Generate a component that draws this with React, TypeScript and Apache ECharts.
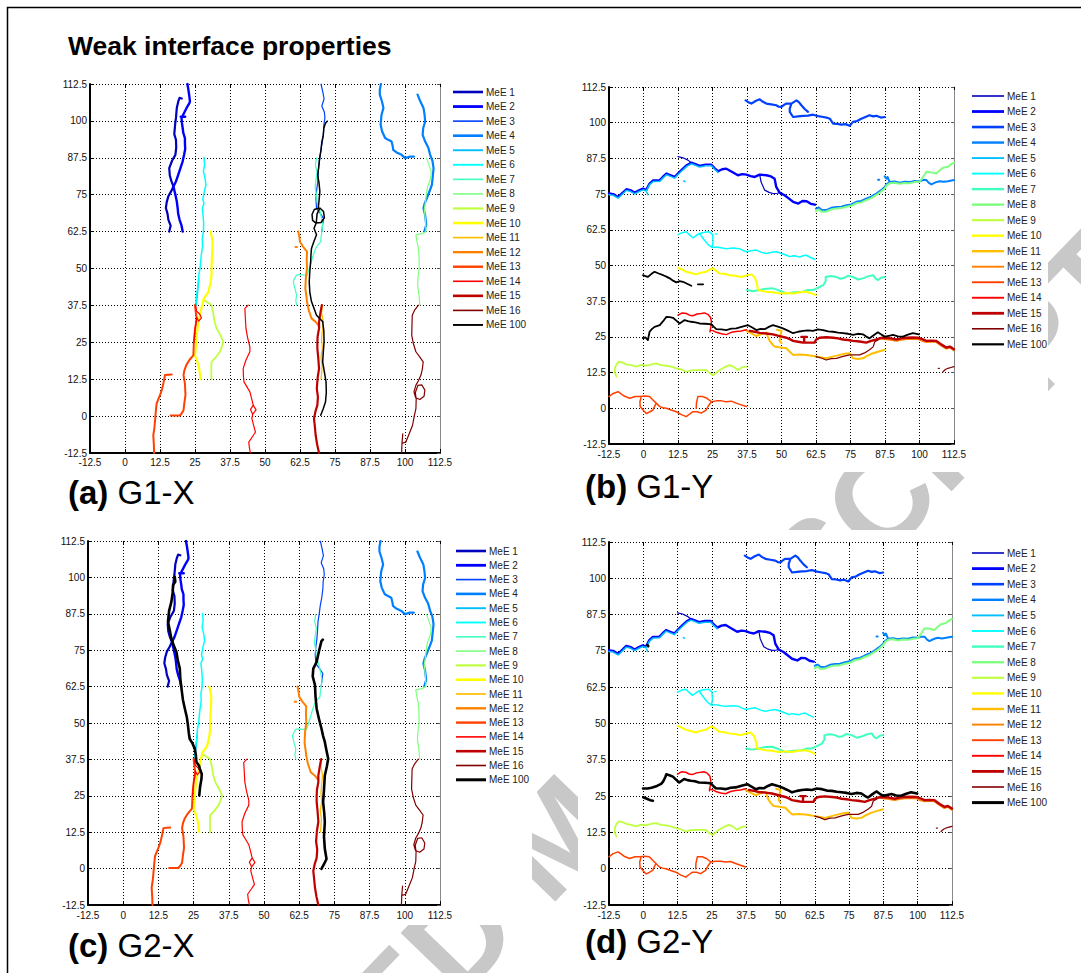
import React, { useEffect, useRef } from "react";
import * as echarts from "echarts";

type Pt = [number, number];
type Seg = Pt[];

const FONT = "Liberation Sans, Arial, Helvetica, sans-serif";

// Legend names and jet colour map (16 steps + black)
const NAMES = [
  "MeE 1", "MeE 2", "MeE 3", "MeE 4", "MeE 5", "MeE 6", "MeE 7", "MeE 8", "MeE 9",
  "MeE 10", "MeE 11", "MeE 12", "MeE 13", "MeE 14", "MeE 15", "MeE 16", "MeE 100",
];
const COLORS = [
  "#0000BF", "#0000FF", "#0040FF", "#0080FF", "#00BFFF", "#00FFFF", "#40FFBF", "#80FF80", "#BFFF40",
  "#FFFF00", "#FFBF00", "#FF8000", "#FF4000", "#FF0000", "#BF0000", "#800000", "#000000",
];

// Axis ticks (mm)
const AXIS_MIN = -12.5;
const AXIS_MAX = 112.5;
const AXIS_STEP = 12.5;

// ---------- crack paths, X-loading (x, y) ----------
const gxMeE1: Seg[] = [[
  [15.8, 62.5], [16.3, 64.5], [15.5, 66.5], [15.2, 68.5], [14.6, 70.5], [14.9, 72.5], [15.5, 74.5], [16.5, 76.2],
  [17.3, 77.8], [16.6, 79.5], [16.0, 81.5], [15.8, 84.0], [16.8, 86.5], [18.0, 88.5], [18.3, 91.0], [18.2, 93.6],
  [17.6, 95.5], [17.9, 98.7], [18.2, 101.0], [18.5, 104.4], [19.0, 106.5], [19.5, 107.8], [20.3, 107.6],
]];
const gxMeE2: Seg[] = [[
  [20.6, 62.5], [20.2, 64.5], [19.5, 66.5], [19.0, 68.5], [18.8, 70.5], [18.5, 72.7], [18.0, 75.0], [17.3, 77.8],
  [18.2, 79.5], [19.0, 81.7], [19.8, 84.0], [20.6, 86.3], [21.1, 88.5], [21.5, 90.5], [21.4, 92.5], [21.4, 94.2],
  [20.8, 96.0], [20.6, 97.6], [20.3, 99.5], [20.2, 101.0], [21.0, 102.5], [22.0, 104.4], [23.0, 106.0], [23.2, 106.6],
  [22.9, 108.9], [22.6, 110.8], [22.3, 112.5],
], [[19.9, 101.4], [21.5, 101.4]]];
const gxMeE3: Seg[] = [[
  [70.0, 112.5], [70.6, 110.0], [71.1, 107.5], [70.3, 105.0], [71.2, 103.0], [71.4, 101.0], [71.0, 98.5], [70.9, 96.0],
  [70.5, 93.0], [70.0, 90.5], [69.6, 87.4], [69.2, 85.0], [69.0, 81.7], [68.8, 79.0], [68.4, 76.1], [68.2, 73.5],
  [68.4, 70.4], [69.5, 69.0], [70.9, 67.0], [70.6, 65.0], [70.3, 62.5],
]];
const gxMeE4: Seg[] = [[
  [91.4, 112.5], [91.0, 110.5], [91.0, 108.9], [91.8, 106.5], [92.3, 104.4], [91.6, 102.0], [91.3, 98.7], [91.8, 96.5],
  [92.9, 94.2], [94.2, 93.5], [95.2, 93.0], [95.6, 91.5], [95.8, 90.2], [97.0, 89.3], [98.8, 88.5], [100.0, 87.4],
  [101.8, 87.9], [103.2, 87.9],
], [
  [104.5, 108.9], [105.3, 107.0], [106.6, 104.4], [107.0, 102.0], [107.2, 99.8], [106.5, 97.5], [106.3, 95.3],
  [107.2, 93.0], [108.3, 91.0], [109.0, 88.5], [109.8, 86.5], [110.2, 84.0], [109.9, 81.0], [109.6, 78.3],
  [108.7, 76.0], [107.8, 73.8], [107.0, 72.0], [106.6, 70.4], [107.2, 68.0], [107.6, 64.8], [106.9, 62.5],
]];
const gxMeE5: Seg[] = [[[25.4, 37.6], [25.8, 41.0], [26.1, 44.0], [26.3, 46.5]]];
const gxMeE6: Seg[] = [[
  [28.2, 87.6], [28.4, 85.0], [28.0, 83.0], [28.6, 80.5], [28.9, 78.3], [28.3, 76.0], [27.8, 73.5], [28.2, 72.0],
  [27.6, 70.4], [27.9, 68.0], [28.1, 65.0], [28.0, 62.5], [27.6, 60.0], [27.7, 57.5], [27.3, 55.0], [27.0, 52.3],
  [26.8, 50.0], [26.3, 47.5], [26.3, 45.5], [25.8, 42.5], [25.4, 40.0], [25.4, 37.6],
]];
const gxMeE7: Seg[] = [[
  [68.4, 87.4], [68.0, 85.0], [68.6, 82.5], [68.2, 80.0], [67.9, 77.5], [68.4, 75.0], [68.6, 72.5], [69.5, 70.0],
  [70.2, 67.0], [70.6, 64.5], [70.3, 62.5], [70.0, 60.5], [69.9, 59.1], [68.8, 57.8], [68.1, 56.8], [67.2, 54.5],
  [66.5, 52.0], [65.8, 50.0], [65.1, 47.8], [63.7, 47.8], [62.3, 48.0], [61.3, 47.8], [60.5, 46.5], [60.1, 45.5],
  [60.6, 43.5], [61.3, 41.0], [61.0, 39.0], [61.3, 37.6],
]];
const gxMeE8: Seg[] = [[
  [107.7, 87.4], [108.6, 85.0], [109.4, 82.5], [109.0, 80.0], [108.0, 77.5], [107.6, 75.0], [107.3, 72.5],
  [106.9, 70.0], [107.2, 67.5], [107.4, 65.0], [107.5, 62.5],
], [
  [107.5, 62.5], [106.0, 61.8], [103.9, 61.4], [104.3, 59.0], [104.8, 56.8], [105.0, 54.0], [105.1, 50.1],
  [104.7, 47.5], [104.5, 44.4], [105.0, 41.0], [105.3, 37.6],
]];
const gxMeE9: Seg[] = [[
  [28.2, 39.3], [29.5, 38.5], [30.9, 37.6], [31.5, 35.0], [32.0, 32.0], [32.7, 29.7], [34.0, 27.5], [35.1, 25.2],
  [34.6, 23.5], [33.9, 21.8], [32.5, 20.0], [30.9, 18.4], [30.8, 15.5], [30.9, 12.5],
]];
const gxMeE10: Seg[] = [[
  [30.6, 62.5], [31.3, 59.1], [31.2, 56.0], [31.0, 53.0], [30.9, 50.0], [30.9, 47.8], [30.5, 45.0], [29.8, 42.1],
  [28.2, 39.9], [27.3, 36.5], [26.5, 33.0], [26.0, 30.0], [25.6, 27.4], [25.4, 24.0], [25.0, 20.6], [25.8, 18.5],
  [26.5, 16.1], [27.0, 12.5],
]];
const gxMeE11: Seg[] = [[
  [70.5, 37.6], [70.2, 35.0], [70.8, 32.0], [70.5, 29.0], [70.2, 26.0], [70.5, 23.0], [70.0, 20.0], [70.4, 17.0],
  [70.2, 14.0], [70.0, 12.5],
]];
const gxMeE12: Seg[] = [[
  [61.9, 62.5], [62.3, 60.5], [62.5, 59.1], [63.5, 57.5], [65.0, 55.7], [64.9, 53.0], [65.0, 50.1], [64.6, 47.0],
  [64.4, 43.3], [64.8, 40.5], [65.0, 38.8], [65.6, 36.0], [66.6, 33.1], [68.0, 32.0], [69.3, 30.5],
], [[60.9, 57.3], [61.4, 57.3]]];
const gxMeE13: Seg[] = [[
  [25.0, 37.6], [25.3, 35.0], [25.6, 33.1], [25.1, 30.0], [24.8, 27.5], [24.6, 25.2], [24.5, 22.5], [24.4, 20.6],
  [23.0, 19.0], [21.9, 17.3], [21.2, 15.5], [20.9, 13.9], [21.4, 11.0], [21.6, 7.1], [21.2, 4.5], [20.9, 2.0],
  [20.3, 1.0], [19.6, 0.2], [18.0, 0.2], [16.3, 0.2],
], [
  [16.7, 14.1], [15.5, 14.0], [14.3, 13.9], [13.8, 11.5], [13.2, 9.0], [12.5, 7.1], [11.3, 4.3], [11.0, 1.5],
  [10.7, -1.9], [10.5, -4.0], [10.1, -6.5], [10.3, -9.5], [10.4, -12.5],
]];
const gxMeE14: Seg[] = [[
  [25.2, 37.6], [25.6, 35.5], [26.7, 34.5], [27.3, 33.3], [26.3, 32.2], [25.6, 33.5], [25.4, 31.5], [25.0, 29.7],
  [24.8, 27.0], [24.6, 25.0],
], [
  [44.0, 37.6], [42.8, 36.5], [43.0, 33.0], [43.2, 29.7], [43.8, 26.5], [44.6, 23.5], [44.6, 21.8], [43.2, 19.0],
  [42.2, 16.1], [42.3, 13.5], [42.5, 11.6], [43.5, 10.0], [44.6, 8.2], [45.2, 6.0], [45.8, 3.7], [46.8, 2.1],
  [45.6, 0.6], [45.3, -0.8], [45.9, -3.0], [46.6, -5.4], [45.5, -7.0], [44.2, -8.8], [44.4, -10.5], [44.8, -12.5],
], [[45.8, 3.7], [44.8, 2.2], [45.6, 0.6]]];
const gxMeE15: Seg[] = [[
  [70.3, 37.6], [69.8, 35.0], [69.3, 32.0], [69.3, 29.7], [68.8, 27.0], [68.7, 25.0], [68.7, 22.9], [69.0, 20.0],
  [69.3, 16.1], [68.8, 13.0], [68.5, 9.3], [68.9, 6.5], [68.7, 3.7], [68.0, 1.5], [67.5, -0.8], [67.8, -3.5],
  [68.1, -6.5], [68.6, -9.5], [69.3, -12.5],
]];
const gxMeE16: Seg[] = [[
  [104.8, 37.6], [103.5, 36.0], [102.6, 34.2], [102.5, 31.0], [102.4, 27.4], [103.0, 24.5], [103.9, 21.8],
  [105.3, 20.0], [106.5, 18.4], [106.2, 16.0], [105.7, 13.9], [104.8, 12.0], [103.9, 10.5], [103.2, 8.2],
  [103.8, 6.2], [105.3, 5.6], [106.8, 6.7], [107.1, 8.8], [106.0, 10.6], [104.6, 10.4], [103.7, 8.0], [104.0, 5.8],
  [103.9, 2.5], [103.3, 0.0], [102.7, -3.1], [101.5, -6.0], [100.3, -8.8], [99.0, -9.2],
], [[98.8, -12.5], [98.9, -9.5], [99.2, -6.0]]];
const g1xMeE100: Seg[] = [[
  [72.2, 99.9], [71.6, 99.2], [71.0, 97.5], [70.8, 95.0], [70.3, 93.0], [70.0, 90.0], [69.5, 87.4], [69.2, 84.5],
  [68.8, 81.7], [69.3, 79.0], [69.6, 76.1], [69.3, 73.0], [69.0, 70.4], [67.6, 70.0], [66.8, 68.3], [67.0, 66.3],
  [68.2, 65.4], [70.0, 65.6], [71.2, 67.2], [70.9, 69.3], [69.6, 70.5], [68.6, 68.5], [68.3, 65.4], [67.5, 63.6],
  [68.4, 61.4], [67.4, 59.0], [66.6, 56.8], [66.4, 54.5], [66.3, 52.3], [66.0, 49.0], [65.8, 45.5], [66.0, 42.0],
  [66.6, 38.8], [67.5, 36.5], [68.4, 34.2], [69.6, 33.0], [70.6, 32.0], [71.0, 29.0], [71.1, 25.2], [70.8, 21.5],
  [70.6, 18.4], [71.2, 15.0], [71.8, 11.6], [71.9, 8.0], [71.6, 4.8], [70.8, 2.5], [69.9, 0.3],
]];
const g2xMeE100: Seg[] = [[
  [18.3, 100.2], [18.5, 98.5], [17.7, 97.4], [17.6, 95.0], [17.1, 91.6], [16.3, 88.5], [15.9, 84.8], [16.5, 82.0],
  [17.1, 79.0], [18.0, 76.5], [18.9, 74.4], [19.4, 71.5], [20.1, 68.7], [20.3, 65.0], [20.7, 61.8], [21.2, 58.0],
  [21.9, 54.9], [22.6, 52.0], [23.0, 49.2], [23.3, 46.5], [23.6, 44.6], [24.6, 43.0], [25.4, 41.2], [25.8, 39.0],
  [26.0, 36.6], [27.0, 35.2], [27.2, 34.3], [27.9, 32.5], [27.8, 30.9], [27.3, 28.0], [27.0, 25.1],
], [
  [70.9, 78.6], [70.4, 78.1], [69.6, 75.0], [68.7, 71.0], [67.5, 68.7], [67.3, 66.0], [68.1, 63.0], [68.3, 59.0],
  [68.7, 54.9], [69.5, 51.5], [70.4, 48.1], [71.0, 45.5], [71.6, 43.5], [72.2, 40.5], [72.8, 37.7], [72.3, 35.0],
  [71.6, 32.0], [71.3, 27.0], [71.0, 22.8], [71.4, 19.0], [71.6, 16.0], [71.3, 11.0], [71.6, 6.8], [72.2, 3.3],
  [71.3, 1.5], [70.4, -0.1],
]];

// ---------- crack paths, Y-loading (x, y) ----------
const gyMeE1: Seg[] = [
  [[12.5, 88.1], [14.3, 87.7], [16.1, 86.9], [17.3, 86.0]],
  [[42.1, 81.8], [42.6, 79.2], [43.9, 76.4], [45.5, 75.6], [46.9, 75.2], [48.5, 75.3], [49.3, 75.5]],
];
const gyMeE2: Seg[] = [[
  [-12.5, 75.2], [-11.0, 75.0], [-9.2, 74.0], [-7.5, 75.5], [-6.2, 76.7], [-4.6, 76.3], [-3.2, 75.5], [-1.6, 76.3],
  [-0.2, 76.9], [1.0, 76.5], [2.2, 78.7], [3.5, 79.8], [5.9, 79.9], [7.0, 81.0], [8.3, 82.2], [9.8, 81.6],
  [11.3, 81.0], [12.8, 82.5], [14.3, 83.9], [15.8, 85.2], [17.3, 86.0], [18.8, 85.5], [20.3, 84.9], [22.5, 85.3],
  [24.6, 85.3], [25.8, 84.0], [27.0, 83.0], [28.5, 83.7], [30.0, 83.9], [32.0, 82.8], [34.2, 81.6], [35.8, 82.0],
  [37.3, 81.8], [38.8, 81.3], [40.3, 81.0], [42.1, 81.8], [44.5, 81.6], [46.2, 81.2], [47.5, 80.4], [48.1, 77.5],
  [49.3, 75.5], [51.1, 74.6], [52.6, 73.5], [54.2, 72.3], [56.1, 71.7], [57.6, 72.6], [59.1, 72.5], [60.6, 71.6],
  [62.1, 71.3],
]];
const gyMeE3: Seg[] = [[
  [37.0, 107.8], [38.0, 107.2], [39.1, 106.7], [40.6, 107.6], [42.1, 108.2], [43.3, 107.3], [44.5, 106.7],
  [46.3, 106.4], [48.1, 106.1], [49.0, 105.6], [50.0, 105.5], [51.0, 106.3], [51.8, 106.7], [53.6, 106.7],
  [55.4, 107.8], [56.3, 107.2], [57.2, 106.1], [58.4, 104.8], [59.6, 103.8],
], [
  [53.6, 106.7], [53.0, 105.0], [53.0, 103.8], [54.2, 102.0], [56.0, 102.2], [57.8, 102.4], [59.6, 102.5],
  [61.4, 102.8], [63.3, 102.3], [65.1, 102.0], [66.3, 101.8], [67.5, 101.4], [68.7, 99.7], [70.2, 99.6],
  [71.7, 99.3], [73.2, 99.5], [74.7, 98.9], [75.9, 100.3], [77.4, 100.6], [78.9, 101.4], [80.4, 102.0],
  [81.9, 102.6], [83.2, 102.2], [84.4, 102.4], [86.0, 101.8], [87.4, 102.0],
]];
const gyMeE4: Seg[] = [[
  [62.5, 69.9], [63.5, 70.3], [64.5, 69.5], [66.2, 69.4], [68.0, 70.2], [69.9, 70.5], [71.7, 70.6], [73.5, 71.1],
  [75.3, 71.4], [77.1, 72.3], [78.9, 72.6], [80.7, 73.4], [82.5, 74.1], [84.4, 75.2], [86.0, 76.3], [87.4, 77.5],
  [88.3, 78.6], [89.2, 79.2], [91.0, 79.4], [92.8, 79.0], [94.6, 79.3], [96.4, 79.2], [98.2, 79.6], [100.1, 79.5],
  [101.3, 79.9], [102.5, 79.9], [103.4, 78.9], [104.3, 78.4], [105.8, 79.1], [107.3, 79.5], [108.8, 79.3],
  [110.3, 79.5], [112.5, 79.9],
], [[87.4, 81.2], [88.0, 80.4], [88.4, 81.0], [89.2, 79.2]], [[85.0, 80.0], [85.4, 80.0]]];
const gyMeE5: Seg[] = [[
  [-12.5, 74.8], [-11.0, 74.6], [-9.2, 73.6], [-7.5, 75.1], [-6.2, 76.3], [-4.6, 75.9], [-3.2, 75.1], [-1.6, 75.9],
  [-0.2, 76.5], [1.0, 76.1], [2.2, 78.3], [3.5, 79.4], [5.9, 79.5], [7.0, 80.6], [8.3, 81.8], [9.8, 81.2],
  [11.3, 80.6], [12.8, 82.1], [14.3, 83.5], [15.8, 84.8], [17.3, 85.6], [18.8, 85.1], [20.3, 84.5], [22.5, 84.9],
  [24.6, 84.9], [25.8, 83.6], [27.0, 82.6],
], [[1.2, 75.6], [1.6, 74.8]], [[14.6, 79.6], [15.0, 79.4]]];
const gyMeE6: Seg[] = [[
  [12.5, 60.8], [14.0, 61.5], [15.5, 61.8], [16.7, 60.7], [17.9, 59.7], [19.1, 60.5], [20.3, 61.2], [22.0, 61.6],
  [23.9, 61.8], [25.0, 60.8], [25.2, 58.3], [24.8, 56.3], [26.4, 56.5], [28.0, 56.2], [30.0, 55.9], [32.4, 56.1],
  [34.8, 55.9], [36.0, 55.3], [37.3, 54.8], [39.0, 55.2], [40.9, 55.4], [42.7, 54.6], [44.5, 54.2], [46.3, 54.6],
  [48.1, 54.8], [50.0, 54.2], [51.8, 53.6], [53.0, 53.1], [54.2, 53.4], [55.4, 53.2], [56.6, 53.0], [57.8, 53.4],
  [59.0, 53.6], [60.5, 52.8], [62.0, 52.2],
], [[20.3, 61.2], [21.8, 59.2], [23.3, 57.4], [24.8, 56.3]], [[26.1, 61.0], [26.5, 61.0]]];
const gyMeE7: Seg[] = [[
  [37.5, 41.4], [39.5, 41.0], [42.1, 41.4], [44.5, 41.9], [46.9, 42.0], [49.3, 41.2], [51.8, 40.2], [54.8, 40.6],
  [57.8, 40.8], [59.6, 41.4], [61.4, 41.4], [63.2, 42.2], [65.1, 43.1], [66.0, 44.5], [66.0, 46.0], [67.9, 46.3],
  [69.9, 46.0], [71.1, 45.4], [72.3, 45.5], [74.1, 46.4], [75.9, 46.0], [77.7, 45.1], [79.5, 45.5], [81.3, 46.2],
  [83.2, 46.6], [84.1, 45.4], [85.0, 44.9], [86.2, 45.8], [87.4, 46.0],
]];
const gyMeE8: Seg[] = [[
  [62.5, 69.0], [63.5, 69.6], [64.5, 68.8], [66.2, 68.9], [68.0, 69.6], [69.9, 70.0], [71.7, 70.1], [73.5, 70.6],
  [75.3, 70.9], [77.1, 71.8], [78.9, 72.1], [80.7, 72.9], [82.5, 73.6], [84.4, 74.7], [86.0, 75.8], [87.4, 77.0],
  [88.3, 78.2], [89.2, 78.8], [91.0, 79.0], [92.8, 78.6], [94.6, 78.9], [96.4, 78.8], [98.2, 79.2], [100.1, 79.4],
  [101.3, 81.0], [102.5, 82.8], [104.3, 82.6], [106.1, 82.2], [107.3, 83.3], [108.5, 84.2], [110.3, 84.6],
  [111.5, 85.5], [112.5, 86.0],
]];
const gyMeE9: Seg[] = [[
  [-9.8, 11.1], [-10.4, 12.5], [-10.4, 14.0], [-9.8, 15.4], [-8.9, 16.3], [-7.5, 16.0], [-6.2, 15.4], [-4.4, 15.1],
  [-2.6, 14.6], [-0.8, 15.2], [1.0, 14.9], [2.8, 15.4], [4.6, 15.7], [6.4, 15.1], [8.3, 14.9], [10.1, 14.6],
  [11.9, 14.0], [13.7, 13.6], [15.5, 12.8], [17.3, 13.3], [19.1, 13.4], [20.9, 13.4], [22.7, 13.4], [24.0, 12.3],
  [25.2, 11.6], [26.4, 12.5], [27.6, 13.4], [29.4, 14.4], [31.2, 15.1], [32.7, 14.5], [34.2, 13.4], [35.8, 14.4],
  [37.3, 14.6],
]];
const gyMeE10: Seg[] = [[
  [12.5, 49.2], [14.0, 48.6], [15.5, 47.8], [17.3, 47.4], [19.1, 46.9], [20.9, 47.5], [22.7, 47.8], [24.0, 48.6],
  [25.1, 49.0], [26.4, 48.1], [27.6, 47.2], [29.4, 47.1], [31.2, 46.6], [33.3, 46.4], [35.4, 46.0], [37.3, 46.5],
  [39.1, 46.9], [40.3, 45.8], [40.9, 44.3], [41.2, 42.8], [41.5, 41.4], [43.0, 41.1], [44.5, 40.8], [46.9, 40.6],
  [49.3, 40.2], [51.8, 40.4], [54.2, 40.2], [56.6, 40.6], [59.0, 40.8], [60.6, 40.4], [62.4, 39.6],
]];
const gyMeE11: Seg[] = [[
  [37.3, 27.1], [39.1, 26.2], [40.9, 25.3], [42.7, 26.0], [44.5, 26.5], [45.1, 25.0], [45.7, 23.6], [46.6, 22.5],
  [47.5, 21.6], [49.6, 21.3], [51.8, 21.0], [53.0, 19.8], [54.2, 18.7], [56.6, 18.8], [59.0, 18.7], [60.8, 18.4],
  [62.6, 18.1], [64.4, 17.8], [66.2, 17.5], [68.6, 18.1], [71.1, 18.7], [72.9, 19.1], [74.7, 19.3], [75.3, 18.4],
  [75.9, 17.5], [77.7, 17.3], [79.5, 17.5], [81.3, 18.5], [83.2, 19.3], [85.3, 19.9], [87.4, 20.5],
], [[48.4, 27.5], [50.0, 27.1], [49.6, 25.5], [49.3, 23.6], [50.0, 22.8]]];
const gyMeE12: Seg[] = [[
  [84.4, 23.8], [86.0, 24.4], [87.4, 24.2], [89.5, 23.9], [91.6, 23.6], [93.4, 23.9], [95.2, 24.2], [97.3, 24.2],
  [99.4, 24.2], [101.0, 23.5], [102.5, 23.1], [104.3, 23.3], [106.1, 23.1], [108.0, 21.8], [109.7, 20.8],
  [111.0, 21.2], [112.5, 20.2],
]];
const gyMeE13: Seg[] = [[
  [-12.5, 4.1], [-11.0, 5.2], [-9.2, 5.8], [-7.0, 4.3], [-5.0, 3.5], [-3.0, 4.1], [-1.3, 4.1], [0.5, 4.3], [2.2, 4.1],
  [3.5, 2.8], [4.6, 1.8], [5.9, 0.6], [7.0, 0.2], [8.3, 0.0], [10.0, -0.6], [11.9, -1.2], [13.7, -2.2], [15.5, -2.9],
  [16.7, -2.0], [17.9, -1.2], [19.4, -1.2], [20.9, -1.7], [22.7, -0.6], [23.6, 1.0], [24.6, 2.3], [26.4, 2.6],
  [28.2, 2.6], [30.0, 2.3], [31.8, 2.5], [33.6, 1.8], [35.4, 1.2], [37.3, 0.6],
], [
  [-0.8, 4.1], [-1.3, 2.3], [-1.2, 0.6], [0.0, -0.8], [1.0, -1.8], [2.2, -1.3], [3.4, -0.6], [4.6, 1.8],
], [[19.1, 0.0], [19.2, 2.0], [19.7, 4.1], [21.5, 4.1], [23.0, 3.5], [24.6, 2.3]]];
const gyMeE14: Seg[] = [[
  [12.5, 32.6], [14.0, 33.4], [15.5, 33.2], [16.7, 32.6], [17.9, 32.4], [19.4, 33.0], [20.9, 33.2], [22.1, 33.4],
  [23.3, 32.9], [24.3, 31.8], [24.6, 30.3], [24.4, 28.5], [24.1, 26.8],
], [
  [24.1, 27.4], [25.2, 27.2], [26.4, 26.6], [28.2, 26.1], [30.0, 25.8], [31.8, 26.6], [33.6, 26.9], [35.4, 27.1],
  [37.3, 27.5],
]];
const gyMeE15: Seg[] = [[
  [38.5, 27.1], [40.3, 26.8], [42.1, 26.4], [44.5, 26.2], [46.9, 25.9], [49.3, 25.3], [51.8, 24.7], [53.0, 24.2],
  [54.2, 23.6], [56.0, 23.3], [57.8, 23.0], [59.9, 23.0], [62.0, 23.0], [62.5, 24.0], [63.8, 24.7], [66.2, 24.9],
  [68.7, 24.7], [70.5, 24.5], [72.3, 24.1], [74.1, 23.9], [75.9, 23.6], [78.3, 23.4], [80.7, 23.0], [82.5, 23.6],
  [84.4, 24.1], [85.9, 24.6], [87.4, 24.7], [89.5, 24.5], [91.6, 24.1], [93.4, 24.5], [95.2, 24.7], [97.3, 24.8],
  [99.4, 24.7], [101.0, 24.2], [102.5, 23.6], [104.3, 23.7], [106.1, 23.6], [108.0, 22.3], [109.7, 21.3],
  [111.0, 21.6], [112.5, 20.7],
], [[57.2, 25.0], [59.2, 25.0]], [[58.2, 25.0], [58.2, 23.0]]];
const gyMeE16: Seg[] = [[
  [62.5, 18.1], [64.4, 17.6], [66.2, 16.9], [68.0, 17.4], [69.9, 17.5], [72.3, 18.2], [74.7, 18.7], [76.5, 18.7],
  [78.3, 18.7], [80.1, 19.4], [81.9, 20.5], [83.2, 21.5], [83.8, 23.3], [85.0, 23.9],
], [[108.5, 12.8], [109.4, 13.6], [110.3, 14.0], [111.4, 14.3], [112.5, 14.6]], [[106.8, 14.0], [107.2, 14.0]]];
// shared tail of the lower black crack in both Y cases
const gyMeE100Tail: Pt[] = [
  [12.0, 30.6], [13.1, 29.7], [14.0, 30.3], [14.9, 30.9], [16.1, 30.5], [17.3, 30.3], [18.8, 30.1], [20.3, 29.7],
  [22.5, 29.6], [24.6, 29.4], [25.5, 28.5], [26.4, 27.7], [28.2, 27.6], [30.0, 27.4], [31.8, 27.9], [33.6, 28.0],
  [35.8, 28.6], [37.9, 29.1], [39.4, 28.3], [40.9, 27.4], [42.4, 27.8], [43.9, 27.7], [45.4, 28.5], [46.9, 29.1],
  [48.7, 28.6], [50.5, 28.0], [52.3, 27.2], [54.2, 26.3], [56.0, 26.8], [57.8, 27.1], [59.6, 27.3], [61.4, 27.1],
  [63.2, 27.6], [65.1, 27.4], [66.9, 26.9], [68.7, 26.8], [70.5, 26.5], [72.3, 26.3], [74.1, 26.1], [75.9, 25.7],
  [77.7, 26.1], [79.5, 25.9], [80.7, 25.1], [81.9, 24.5], [83.4, 25.6], [84.9, 26.6], [86.2, 25.8], [87.4, 25.1],
  [88.9, 25.4], [90.4, 25.7], [92.2, 25.2], [94.0, 25.1], [95.8, 25.8], [97.6, 26.3], [99.8, 25.9],
];
const g1yMeE100Head: Pt[] = [
  [-0.2, 24.5], [0.7, 24.8], [1.6, 23.9], [2.2, 26.8], [3.1, 27.8], [4.0, 28.5], [5.9, 29.1], [7.1, 30.5],
  [8.3, 32.0], [9.5, 31.9], [10.7, 31.7],
];
const g1yMeE100Upper: Seg[] = [[
  [-0.2, 46.6], [0.7, 46.3], [1.6, 46.0], [2.8, 47.0], [4.0, 47.8], [5.5, 47.2], [7.1, 46.6], [8.3, 46.1],
  [9.5, 45.5], [10.7, 44.7], [11.9, 44.1], [13.1, 44.5], [14.3, 44.3], [15.8, 43.6], [17.3, 42.9],
], [[19.7, 43.4], [21.6, 43.4]]];
const g2yMeE100Head: Pt[] = [
  [-0.1, 27.6], [1.5, 27.6], [3.0, 27.9], [5.0, 28.5], [6.5, 29.2], [7.2, 30.0], [8.0, 31.5], [8.4, 32.5],
  [9.5, 32.2], [10.8, 31.7],
];
const g2yMeE100Extra: Seg[] = [[[0.0, 24.6], [1.5, 24.0], [2.5, 23.6], [3.5, 23.4]], [[1.5, 77.0], [1.8, 76.6]]];

const g1yMeE100: Seg[] = [[...g1yMeE100Head, ...gyMeE100Tail], ...g1yMeE100Upper];
const g2yMeE100: Seg[] = [[...g2yMeE100Head, ...gyMeE100Tail], ...g2yMeE100Extra];

const X_COMMON: Seg[][] = [
  gxMeE1, gxMeE2, gxMeE3, gxMeE4, gxMeE5, gxMeE6, gxMeE7, gxMeE8, gxMeE9,
  gxMeE10, gxMeE11, gxMeE12, gxMeE13, gxMeE14, gxMeE15, gxMeE16,
];
const Y_COMMON: Seg[][] = [
  gyMeE1, gyMeE2, gyMeE3, gyMeE4, gyMeE5, gyMeE6, gyMeE7, gyMeE8, gyMeE9,
  gyMeE10, gyMeE11, gyMeE12, gyMeE13, gyMeE14, gyMeE15, gyMeE16,
];

// line widths per series (last entry = MeE 100)
const WIDTH_X1 = [2.2, 2.4, 1.2, 2.2, 1.5, 1.5, 1.2, 1.2, 1.8, 2.2, 1.3, 2.0, 2.0, 1.2, 2.2, 1.2, 1.5];
const WIDTH_X2 = [2.2, 2.4, 1.2, 2.2, 1.5, 1.5, 1.2, 1.2, 1.8, 2.2, 1.3, 2.0, 2.0, 1.2, 2.2, 1.2, 2.6];
const WIDTH_Y1 = [1.2, 2.4, 2.2, 2.0, 1.5, 1.5, 2.0, 2.0, 1.8, 2.0, 2.0, 1.5, 1.5, 1.5, 2.4, 1.2, 1.8];
const WIDTH_Y2 = [1.2, 2.4, 2.2, 2.0, 1.5, 1.5, 2.0, 2.0, 1.8, 2.0, 2.0, 1.5, 1.5, 1.5, 2.4, 1.2, 2.6];

function toLineData(segs: Seg[]): (Pt | null)[] {
  const out: (Pt | null)[] = [];
  segs.forEach((s, i) => {
    if (i > 0) out.push(null);
    s.forEach((p) => out.push(p));
  });
  return out;
}

// panel layout
const PANELS = [
  {
    grid: { left: 90, top: 84, width: 350, height: 369 },
    curves: [...X_COMMON, g1xMeE100], widths: WIDTH_X1,
    legend: { left: 453, top: 92, step: 14.56, len: 30 },
    caption: { x: 68, y: 492, tag: "(a)", label: "G1-X" },
    labelGap: 4,
  },
  {
    grid: { left: 609, top: 87, width: 345, height: 357 },
    curves: [...Y_COMMON, g1yMeE100], widths: WIDTH_Y1,
    legend: { left: 972, top: 96, step: 15.52, len: 32 },
    caption: { x: 585, y: 486, tag: "(b)", label: "G1-Y" },
    labelGap: 5,
  },
  {
    grid: { left: 88, top: 541, width: 352, height: 364 },
    curves: [...X_COMMON, g2xMeE100], widths: WIDTH_X2,
    legend: { left: 456, top: 551, step: 14.3, len: 30 },
    caption: { x: 68, y: 945, tag: "(c)", label: "G2-X" },
    labelGap: 5,
  },
  {
    grid: { left: 609, top: 542, width: 343, height: 363 },
    curves: [...Y_COMMON, g2yMeE100], widths: WIDTH_Y2,
    legend: { left: 972, top: 553, step: 15.6, len: 32 },
    caption: { x: 585, y: 941, tag: "(d)", label: "G2-Y" },
    labelGap: 5,
  },
];

// white figure backgrounds lying over the watermark
const SHEETS = [
  { x: 20, y: 70, w: 515, h: 405 },
  { x: 578, y: 70, w: 470, h: 402 },
  { x: 20, y: 528, w: 512, h: 397 },
  { x: 578, y: 530, w: 503, h: 395 },
];

function buildOption() {
  const grid: any[] = [];
  const xAxis: any[] = [];
  const yAxis: any[] = [];
  const series: any[] = [];
  const graphic: any[] = [];

  const base = { type: "value", min: AXIS_MIN, max: AXIS_MAX, interval: AXIS_STEP };
  const dotted = { show: true, lineStyle: { color: "#000", width: 1, type: [1, 2] } };
  const label = { fontSize: 10, fontFamily: FONT, color: "#111" };

  PANELS.forEach((p, i) => {
    grid.push({ ...p.grid, containLabel: false });
    xAxis.push({
      ...base, gridIndex: i, position: "bottom",
      axisLine: { show: true, onZero: false, lineStyle: { color: "#000", width: 2 } },
      axisTick: { show: true, inside: true, length: 4, lineStyle: { color: "#000" } },
      axisLabel: { ...label, margin: p.labelGap },
      splitLine: dotted,
    });
    xAxis.push({
      ...base, gridIndex: i, position: "top",
      axisLine: { show: false, onZero: false },
      axisTick: { show: true, inside: true, length: 3, lineStyle: { color: "#000" } },
      axisLabel: { show: false }, splitLine: { show: false },
    });
    yAxis.push({
      ...base, gridIndex: i, position: "left",
      axisLine: { show: true, onZero: false, lineStyle: { color: "#000", width: 2 } },
      axisTick: { show: true, inside: true, length: 3, lineStyle: { color: "#000" } },
      axisLabel: { ...label, margin: 3 },
      splitLine: dotted,
    });
    yAxis.push({
      ...base, gridIndex: i, position: "right",
      axisLine: { show: true, onZero: false, lineStyle: { color: "#888", width: 1 } },
      axisTick: { show: true, inside: true, length: 3, lineStyle: { color: "#555" } },
      axisLabel: { show: false }, splitLine: { show: false },
    });

    p.curves.forEach((segs, k) => {
      series.push({
        type: "line",
        name: NAMES[k],
        xAxisIndex: 2 * i,
        yAxisIndex: 2 * i,
        data: toLineData(segs),
        symbol: "none",
        showSymbol: false,
        connectNulls: false,
        silent: true,
        lineStyle: { color: COLORS[k], width: p.widths[k], join: "round", cap: "round" },
        itemStyle: { color: COLORS[k] },
      });
    });

    // legend block
    NAMES.forEach((name, k) => {
      const y = p.legend.top + k * p.legend.step;
      graphic.push({
        type: "line", silent: true, z: 5,
        shape: { x1: p.legend.left, y1: y, x2: p.legend.left + p.legend.len, y2: y },
        style: { stroke: COLORS[k], lineWidth: p.widths[k] + 0.4 },
      });
      graphic.push({
        type: "text", silent: true, z: 5, x: p.legend.left + p.legend.len + 3, y,
        style: { text: name, fontSize: 10, fontFamily: FONT, fill: "#222", verticalAlign: "middle" },
      });
    });

    // caption
    graphic.push({
      type: "text", silent: true, z: 5, x: p.caption.x, y: p.caption.y,
      style: {
        text: `{b|${p.caption.tag}}{r| ${p.caption.label}}`,
        verticalAlign: "middle",
        rich: {
          b: { fontSize: 33, fontWeight: "bold", fontFamily: FONT, fill: "#000" },
          r: { fontSize: 33, fontFamily: FONT, fill: "#000" },
        },
      },
    });
  });

  // title and frame
  graphic.push({
    type: "text", silent: true, z: 5, x: 68, y: 46,
    style: {
      text: "Weak interface properties", fontSize: 26.5, fontWeight: "bold", fontFamily: FONT,
      fill: "#000", verticalAlign: "middle",
    },
  });
  graphic.push({
    type: "rect", silent: true, z: 6,
    shape: { x: 7.5, y: 7.5, width: 1100, height: 1000 },
    style: { fill: "none", stroke: "#000", lineWidth: 1.5 },
  });

  return {
    animation: false,
    backgroundColor: "transparent",
    grid, xAxis, yAxis, series, graphic,
  };
}

export default function App() {
  const ref = useRef<HTMLDivElement | null>(null);
  useEffect(() => {
    if (!ref.current) return;
    const chart = echarts.init(ref.current, undefined, { renderer: "svg" });
    chart.setOption(buildOption() as any);
    return () => chart.dispose();
  }, []);
  return (
    <div style={{ position: "fixed", left: 0, top: 0, width: 1081, height: 973, background: "#fff", overflow: "hidden" }}>
      {/* watermark, visible only between the figure sheets */}
      <div
        style={{
          position: "absolute", left: 557, top: 835, whiteSpace: "nowrap",
          transform: "translate(-50%, -50%) rotate(-46deg)",
          font: `bold 130px ${FONT}`, color: "#c8c8c8", lineHeight: 1,
        }}
      >
        ACCEPTED MANUSCRIPT
      </div>
      {SHEETS.map((s, i) => (
        <div
          key={i}
          style={{ position: "absolute", left: s.x, top: s.y, width: s.w, height: s.h, background: "#fff" }}
        />
      ))}
      <div ref={ref} style={{ position: "absolute", left: 0, top: 0, width: 1081, height: 973 }} />
    </div>
  );
}
